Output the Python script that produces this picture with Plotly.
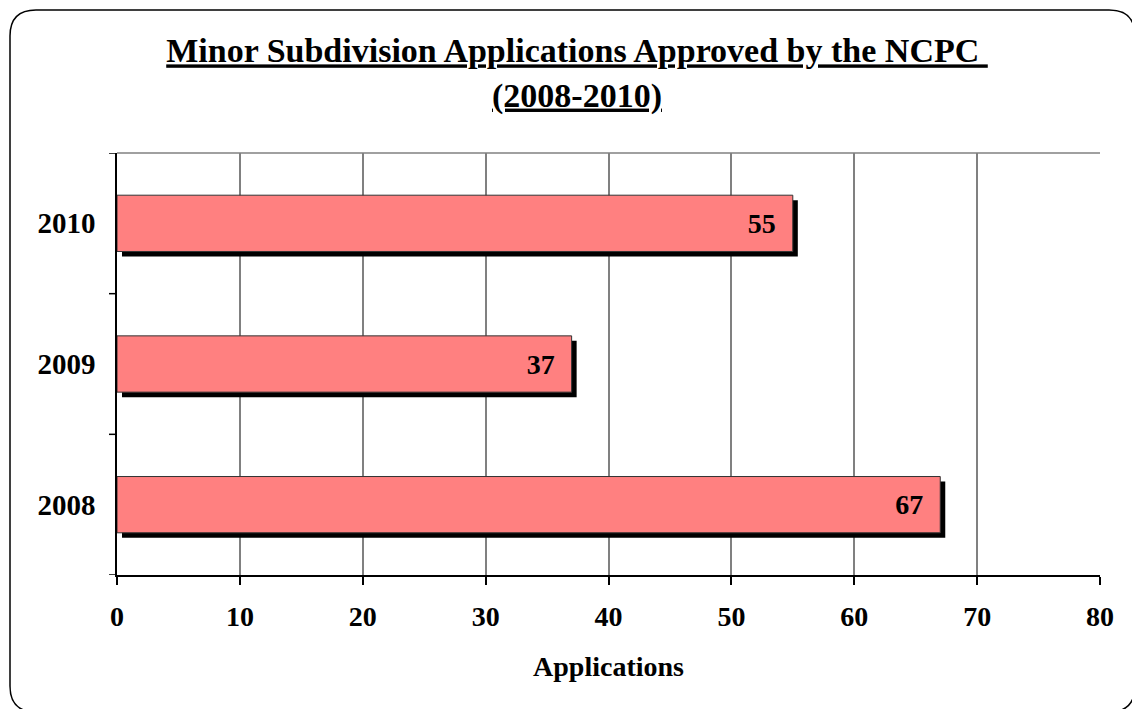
import plotly.graph_objects as go

years = ["2008", "2009", "2010"]
applications = [67, 37, 55]
x_ticks = [0, 10, 20, 30, 40, 50, 60, 70, 80]

W, H = 1132, 709
L, R, T, B = 117, 32, 153, 134
pw, ph = W - L - R, H - T - B
xmax = 80

def px_to_x(dx):
    return dx / pw * xmax

def px_to_cat(dy):
    return dy / (ph / len(years))

font_family = "Liberation Serif, Times New Roman, serif"
bar_w = 0.4
sx, sy = 5, 5  # shadow offset in px

fig = go.Figure()
# shadow
fig.add_trace(go.Bar(
    y=list(range(len(years))), x=applications, base=px_to_x(sx), orientation="h",
    width=bar_w, offset=-bar_w / 2 - px_to_cat(sy),
    marker=dict(color="black", line=dict(width=0)), hoverinfo="skip", showlegend=False,
))
# bars
fig.add_trace(go.Bar(
    y=list(range(len(years))), x=applications, orientation="h",
    width=bar_w, offset=-bar_w / 2,
    marker=dict(color="#FF8080", line=dict(color="#333333", width=1)),
    text=[f"<b>{v}</b>\u00a0\u00a0" for v in applications],
    textposition="inside", insidetextanchor="end", textangle=0,
    textfont=dict(family=font_family, size=28, color="black"),
    showlegend=False,
))

fig.update_layout(
    width=W, height=H, barmode="overlay",
    margin=dict(l=L, r=R, t=T, b=B),
    paper_bgcolor="white", plot_bgcolor="white",
    title=dict(
        text="<span style='text-decoration:underline'><b>Minor Subdivision Applications Approved by the NCPC </b></span><br><span style='text-decoration:underline'><b>(2008-2010)</b></span>",
        x=577 / W, xref="container", xanchor="center", y=0.912, yanchor="top",
        font=dict(family=font_family, size=34, color="black"),
    ),
    xaxis=dict(
        range=[0, xmax], tickvals=x_ticks, ticktext=[f"<b>{t}</b>" for t in x_ticks],
        showgrid=True, gridcolor="#808080", gridwidth=1.5,
        showline=True, linecolor="black", linewidth=1.5,
        ticks="outside", ticklen=8, tickcolor="black", tickwidth=1.5,
        tickfont=dict(family=font_family, size=28, color="black"),
        ticklabelstandoff=8,
        title=dict(text="<b>Applications</b>", font=dict(family=font_family, size=28, color="black"), standoff=25),
        zeroline=False, fixedrange=True,
    ),
    yaxis=dict(
        range=[-0.5, len(years) - 0.5],
        tickvals=list(range(len(years))), ticktext=[f"<b>{y}</b>" for y in years],
        showgrid=False, showline=True, linecolor="black", linewidth=1.5,
        ticks="", tickfont=dict(family=font_family, size=29, color="black"),
        ticklabelstandoff=14, zeroline=False, fixedrange=True,
    ),
)

shapes = [
    # plot top border
    dict(type="line", xref="paper", yref="paper", x0=0, x1=1, y0=1, y1=1,
         line=dict(color="#808080", width=1.5), layer="below"),
]

# category boundary ticks on y axis
for i in range(len(years) + 1):
    yb = i - 0.5
    shapes.append(dict(type="line", xref="paper", yref="y",
                       x0=-8 / pw, x1=0, y0=yb, y1=yb,
                       line=dict(color="black", width=1.5)))

# rounded frame path in paper coords
def P(x, y):
    return f"{(x - L) / pw:.5f},{(H - B - y) / ph:.5f}"

x0f, y0f, x1f, y1f, r = 10, 10, 1135, 712, 26
frame = (f"M {P(x0f + r, y0f)} L {P(x1f - r, y0f)} Q {P(x1f, y0f)} {P(x1f, y0f + r)} "
         f"L {P(x1f, y1f - r)} Q {P(x1f, y1f)} {P(x1f - r, y1f)} "
         f"L {P(x0f + r, y1f)} Q {P(x0f, y1f)} {P(x0f, y1f - r)} "
         f"L {P(x0f, y0f + r)} Q {P(x0f, y0f)} {P(x0f + r, y0f)} Z")
shapes.append(dict(type="path", xref="paper", yref="paper", path=frame,
                   line=dict(color="black", width=1.5)))

fig.update_layout(shapes=shapes)

fig.write_html("out.html")
